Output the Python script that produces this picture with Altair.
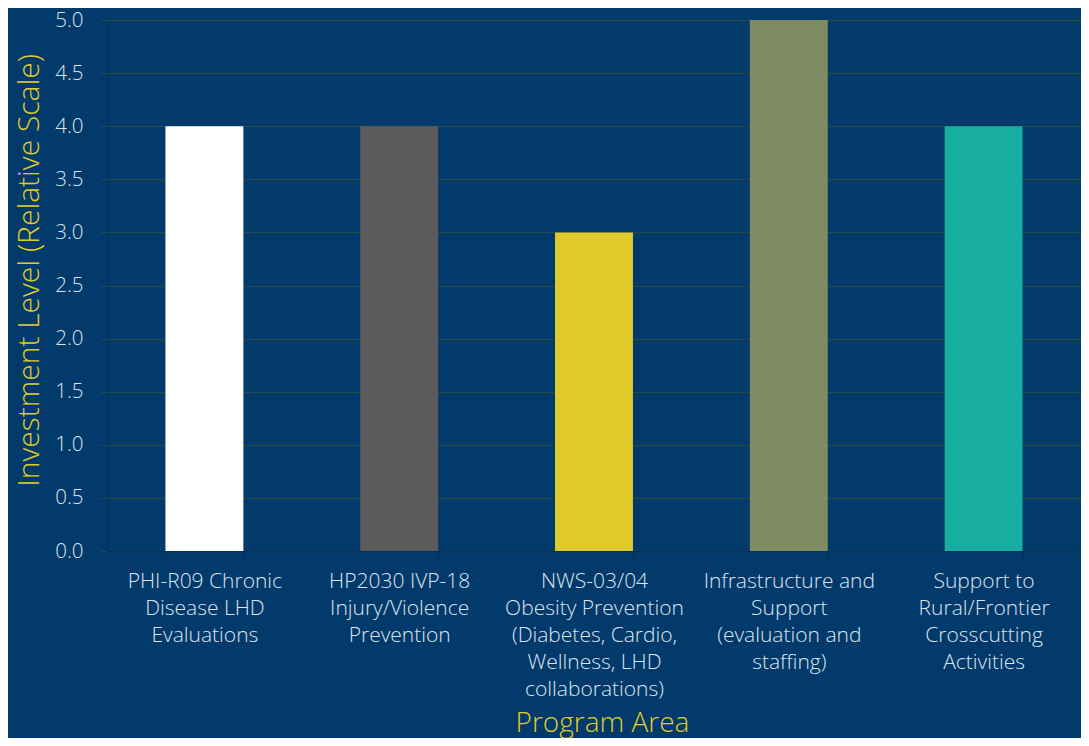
import altair as alt
import pandas as pd

categories = [
    "PHI-R09 Chronic\nDisease LHD\nEvaluations",
    "HP2030 IVP-18\nInjury/Violence\nPrevention",
    "NWS-03/04\nObesity Prevention\n(Diabetes, Cardio,\nWellness, LHD\ncollaborations)",
    "Infrastructure and\nSupport\n(evaluation and\nstaffing)",
    "Support to\nRural/Frontier\nCrosscutting\nActivities",
]
values = [4, 4, 3, 5, 4]
colors = ["#ffffff", "#5b5b5b", "#e0c92a", "#7f8c63", "#17ada1"]

df = pd.DataFrame({"cat": categories, "val": values, "color": colors})

BG = "#013a6b"
FONT = "Open Sans"

chart = alt.Chart(df).mark_bar().encode(
    x=alt.X(
        "cat:N",
        sort=categories,
        title="Program Area",
        scale=alt.Scale(paddingInner=0.6, paddingOuter=0.3),
        axis=alt.Axis(
            labelExpr="isValid(datum.value) ? split(datum.value, '\\n') : ''",
            labelAngle=0,
            labelFontSize=21,
            labelFontWeight=300,
            labelLineHeight=27,
            labelLimit=300,
            labelColor="#dde4ee",
            labelPadding=12,
            labelBaseline="top",
            tickBand="extent",
            tickColor="#0b2e55",
            tickSize=7,
            domainColor="#0b2e55",
            grid=False,
            titleFontSize=28,
            titleColor="#e0cc2a",
            titleFontWeight=300,
            titleX=495,
            titleY=180,
            titleAnchor="start",
            titleAlign="center",
            titleBaseline="alphabetic",
        ),
    ),
    y=alt.Y(
        "val:Q",
        title="Investment Level (Relative Scale)",
        scale=alt.Scale(domain=[0, 5]),
        axis=alt.Axis(
            values=[0, 0.5, 1, 1.5, 2, 2.5, 3, 3.5, 4, 4.5, 5],
            format=".1f",
            labelFontSize=20.5,
            labelFontWeight=300,
            labelColor="#dde4ee",
            labelPadding=17,
            tickColor="#224a4d",
            tickSize=7,
            gridColor="#224a4d",
            gridWidth=1.5,
            domainColor="#0b2e55",
            titleFontSize=30,
            titleColor="#e0cc2a",
            titleFontWeight=300,
            titleX=-69,
            titleY=250,
            titleAngle=270,
            titleAlign="center",
            titleBaseline="alphabetic",
        ),
    ),
    color=alt.Color("color:N", scale=None, legend=None),
).properties(
    width=974,
    height=531,
    background=BG,
    padding={"left": 99, "top": 12, "right": 0, "bottom": 187},
    autosize=alt.AutoSizeParams(type="none"),
).configure(
    font=FONT,
).configure_view(
    stroke=None,
    fill=BG,
)

chart.save("out.html", embed_options={"renderer": "svg", "actions": False})
